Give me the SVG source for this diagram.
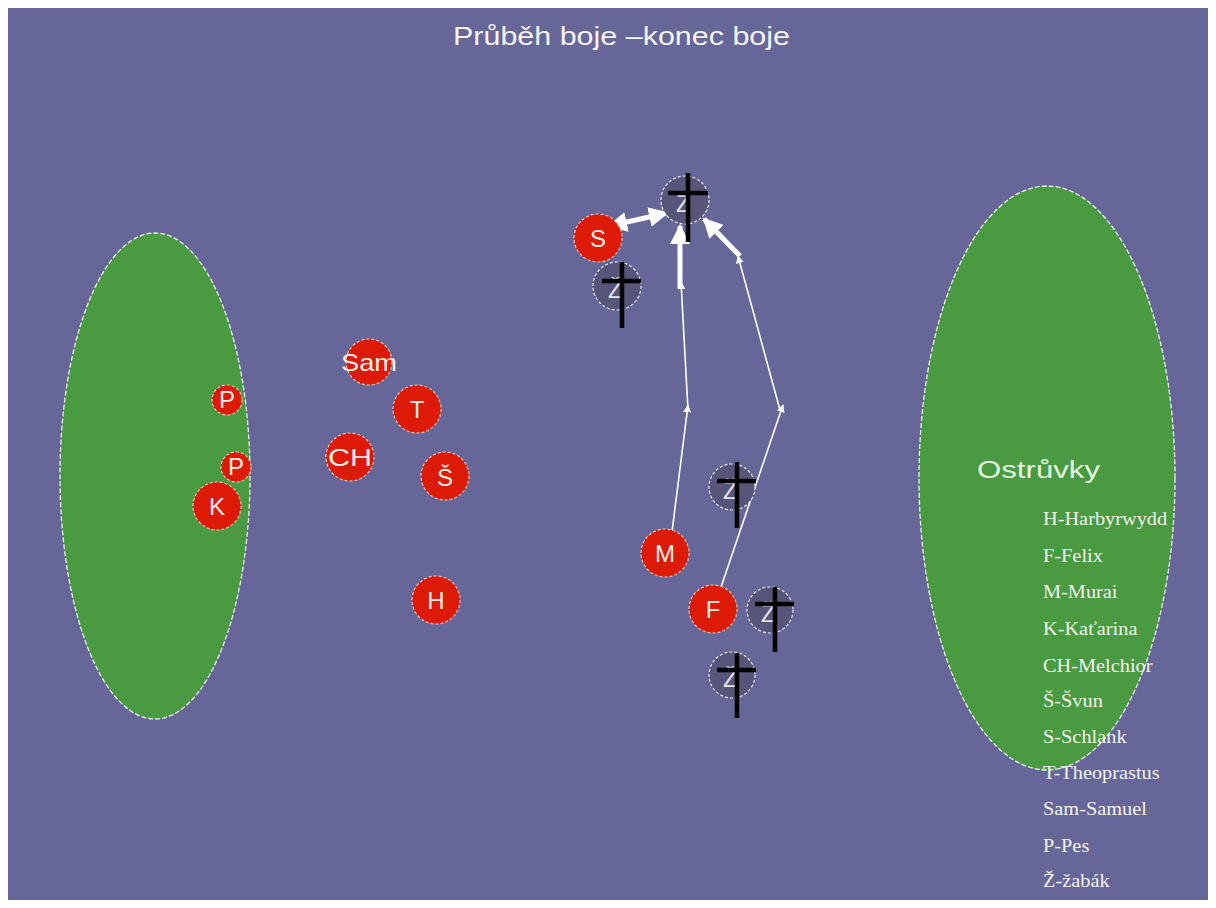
<svg xmlns="http://www.w3.org/2000/svg" width="1216" height="908" viewBox="0 0 1216 908">
<defs>
<style>
.red{fill:#dd1a05;stroke:#f3c0b0;stroke-width:1.2;stroke-dasharray:3 2}
.zab{fill:#57557a;stroke:#e8e8f0;stroke-width:1.2;stroke-dasharray:3 2}
.lbl{font-family:"Liberation Sans",Arial,sans-serif;font-size:24px;fill:#fbeee6;text-anchor:middle}
.lblz{font-family:"Liberation Sans",Arial,sans-serif;font-size:23px;fill:#e4e4ee;text-anchor:middle}
.cross{stroke:#000;stroke-width:4.5;fill:none}
.thin{stroke:#fff;stroke-width:1.6;fill:none}
.thick{stroke:#fff;stroke-width:5;fill:none}
.leg{font-family:"Liberation Serif","Times New Roman",serif;font-size:18px;fill:#f2f4ee}
.isl{fill:#4a9a42;stroke:#eef0ea;stroke-width:1.3;stroke-dasharray:5 2}
</style>
<marker id="ah" viewBox="0 0 10 10" refX="9" refY="5" markerWidth="8" markerHeight="8" markerUnits="userSpaceOnUse" orient="auto-start-reverse">
<path d="M0,0 L10,5 L0,10 z" fill="#fff"/>
</marker>
<marker id="ahb" viewBox="0 0 10 10" refX="9" refY="5" markerWidth="4" markerHeight="4" orient="auto-start-reverse">
<path d="M0,0 L10,5 L0,10 z" fill="#fff"/>
</marker>
</defs>
<rect x="0" y="0" width="1216" height="908" fill="#ffffff"/>
<rect x="8" y="8" width="1200" height="892" fill="#666699"/>
<text x="453" y="45" font-family="'Liberation Sans',Arial,sans-serif" font-size="26" fill="#f4f4fa" textLength="337" lengthAdjust="spacingAndGlyphs">Průběh boje –konec boje</text>

<g id="island-left"><ellipse class="isl" cx="155" cy="476" rx="95" ry="243"/></g>
<g id="island-right">
<ellipse class="isl" cx="1047" cy="478" rx="128" ry="292"/>
<text x="977" y="478" font-family="'Liberation Sans',Arial,sans-serif" font-size="23" fill="#e4f8e0" textLength="123" lengthAdjust="spacingAndGlyphs">Ostrůvky</text>
</g>

<g id="connectors">
<line class="thin" x1="672" y1="532" x2="688" y2="405" marker-end="url(#ah)"/>
<line class="thin" x1="688" y1="410" x2="681" y2="282" marker-end="url(#ah)"/>
<line class="thick" x1="680" y1="288" x2="680" y2="226" marker-end="url(#ahb)"/>
<line class="thin" x1="720" y1="590" x2="783" y2="405" marker-end="url(#ah)"/>
<line class="thin" x1="780" y1="410" x2="738" y2="256" marker-end="url(#ah)"/>
<line class="thick" x1="740" y1="256" x2="704" y2="219" marker-end="url(#ahb)"/>
<line class="thick" x1="609" y1="226" x2="667" y2="213" marker-start="url(#ahb)" marker-end="url(#ahb)"/>
</g>

<g id="node-P1"><circle class="red" cx="227" cy="400" r="15"/><text class="lbl" x="227" y="408" font-size="21">P</text></g>
<g id="node-P2"><circle class="red" cx="236" cy="467" r="15"/><text class="lbl" x="236" y="475" font-size="21">P</text></g>
<g id="node-K"><circle class="red" cx="217" cy="506" r="24"/><text class="lbl" x="217" y="515">K</text></g>
<g id="node-Sam"><circle class="red" cx="369" cy="362" r="23"/><text class="lbl" x="369" y="371" fill="#ffffff" textLength="56" lengthAdjust="spacingAndGlyphs">Sam</text></g>
<g id="node-T"><circle class="red" cx="417" cy="409" r="24"/><text class="lbl" x="417" y="418">T</text></g>
<g id="node-CH"><circle class="red" cx="350" cy="457" r="24"/><text class="lbl" x="350" y="466" textLength="44" lengthAdjust="spacingAndGlyphs">CH</text></g>
<g id="node-S-svun"><circle class="red" cx="445" cy="476" r="24"/><text class="lbl" x="445" y="486">Š</text></g>
<g id="node-H"><circle class="red" cx="436" cy="600" r="24"/><text class="lbl" x="436" y="609">H</text></g>
<g id="node-S"><circle class="red" cx="598" cy="238" r="24"/><text class="lbl" x="598" y="247">S</text></g>
<g id="node-M"><circle class="red" cx="665" cy="553" r="24"/><text class="lbl" x="665" y="562">M</text></g>
<g id="node-F"><circle class="red" cx="713" cy="609" r="24"/><text class="lbl" x="713" y="618">F</text></g>

<g id="node-Z1"><circle class="zab" cx="685" cy="200" r="24"/><text class="lblz" x="683" y="212">Ž</text><line class="cross" x1="688" y1="173" x2="688" y2="242"/><line class="cross" x1="668" y1="193" x2="708" y2="193"/></g>
<g id="node-Z2"><circle class="zab" cx="617" cy="286" r="24"/><text class="lblz" x="615" y="298">Ž</text><line class="cross" x1="622" y1="262" x2="622" y2="328"/><line class="cross" x1="602" y1="281" x2="641" y2="281"/></g>
<g id="node-Z3"><circle class="zab" cx="732" cy="487" r="23"/><text class="lblz" x="730" y="499">Ž</text><line class="cross" x1="737" y1="462" x2="737" y2="528"/><line class="cross" x1="717" y1="481" x2="756" y2="481"/></g>
<g id="node-Z4"><circle class="zab" cx="770" cy="610" r="23"/><text class="lblz" x="768" y="622">Ž</text><line class="cross" x1="775" y1="587" x2="775" y2="652"/><line class="cross" x1="755" y1="604" x2="794" y2="604"/></g>
<g id="node-Z5"><circle class="zab" cx="732" cy="675" r="23"/><text class="lblz" x="730" y="687">Ž</text><line class="cross" x1="737" y1="653" x2="737" y2="718"/><line class="cross" x1="717" y1="670" x2="756" y2="670"/></g>

<g id="legend" transform="translate(1043,0) scale(1.13,1)">
<text class="leg" x="0" y="525">H-Harbyrwydd</text>
<text class="leg" x="0" y="562">F-Felix</text>
<text class="leg" x="0" y="598">M-Murai</text>
<text class="leg" x="0" y="635">K-Kaťarina</text>
<text class="leg" x="0" y="672">CH-Melchior</text>
<text class="leg" x="0" y="707">Š-Švun</text>
<text class="leg" x="0" y="743">S-Schlank</text>
<text class="leg" x="0" y="779">T-Theoprastus</text>
<text class="leg" x="0" y="815">Sam-Samuel</text>
<text class="leg" x="0" y="852">P-Pes</text>
<text class="leg" x="0" y="887">Ž-žabák</text>
</g>
</svg>
